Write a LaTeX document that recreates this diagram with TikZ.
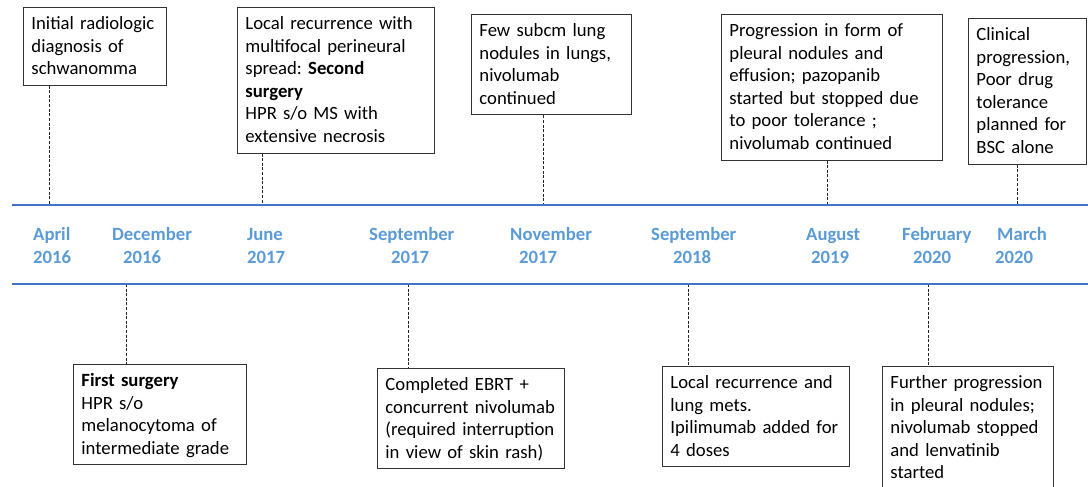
\documentclass[tikz,border=0pt]{standalone}
\usepackage{fontspec}
\setmainfont{Carlito}
\definecolor{tlblue}{HTML}{4472C4}
\definecolor{dateblue}{HTML}{5B9BD5}
\newcommand{\bxstrut}{\rule[-5.6pt]{0pt}{22.6pt}}
\newcommand{\twoline}[3]{\bxstrut #1\\\bxstrut\hspace*{#2}#3}
\begin{document}
\begin{tikzpicture}[x=1pt,y=-1pt,
  evbox/.style={draw=black!80, line width=0.9pt, fill=white, anchor=north west, align=left,
    inner xsep=8pt, inner ysep=5pt, font=\fontsize{18.7}{22.6}\selectfont\frenchspacing,
    execute at begin node=\bxstrut, execute at end node=\bxstrut},
  datelbl/.style={anchor=north west, align=left, inner sep=0pt, text=dateblue,
    font=\fontsize{18.7}{22.3}\selectfont\bfseries},
  axisline/.style={draw=tlblue, line width=2.2pt},
  conn/.style={draw=black!85, line width=0.8pt, dash pattern=on 3pt off 1.6pt}]
\useasboundingbox (0,0) rectangle (1088,487);

% event boxes above the timeline
\node[evbox, text width=127pt] (b1) at (23,7) {Initial radiologic\\diagnosis of\\schwanomma};
\node[evbox, text width=181pt] (b2) at (237,7) {Local recurrence with\\multifocal perineural\\spread: \textbf{Second}\\\textbf{surgery}\\HPR s/o MS with\\extensive necrosis};
\node[evbox, text width=144pt] (b3) at (471,14) {Few subcm lung\\nodules in lungs,\\nivolumab\\continued};
\node[evbox, text width=205pt] (b4) at (721,14) {Progression in form of\\pleural nodules and\\effusion; pazopanib\\started but stopped due\\to poor tolerance ;\\nivolumab continued};
\node[evbox, text width=102pt] (b5) at (968,18) {Clinical\\progression,\\Poor drug\\tolerance\\planned for\\BSC alone};

% event boxes below the timeline
\node[evbox, text width=157pt] (b6) at (73,364) {\textbf{First surgery}\\HPR s/o\\melanocytoma of\\intermediate grade};
\node[evbox, text width=171pt] (b7) at (377,368) {Completed EBRT +\\concurrent nivolumab\\(required interruption\\in view of skin rash)};
\node[evbox, text width=171pt] (b8) at (662,366) {Local recurrence and\\lung mets.\\Ipilimumab added for\\4 doses};
\node[evbox, text width=155pt] (b9) at (882,366) {Further progression\\in pleural nodules;\\nivolumab stopped\\and lenvatinib\\started};

% timeline anchor points
\coordinate (t1) at (49,205);
\coordinate (t2) at (262,205);
\coordinate (t3) at (543,205);
\coordinate (t4) at (827,205);
\coordinate (t5) at (1017,205);
\coordinate (u1) at (126,284);
\coordinate (u2) at (408,284);
\coordinate (u3) at (688,284);
\coordinate (u4) at (928,284);

% connectors
\draw[conn] (b1.south -| t1) -- (t1);
\draw[conn] (b2.south -| t2) -- (t2);
\draw[conn] (b3.south -| t3) -- (t3);
\draw[conn] (b4.south -| t4) -- (t4);
\draw[conn] (b5.south -| t5) -- (t5);
\draw[conn] (u1) -- (u1 |- b6.north);
\draw[conn] (u2) -- (u2 |- b7.north);
\draw[conn] (u3) -- (u3 |- b8.north);
\draw[conn] (u4) -- (u4 |- b9.north);

% timeline band
\coordinate (topL) at (12,205);
\coordinate (topR) at (1088,205);
\coordinate (botL) at (12,284);
\coordinate (botR) at (1088,284);
\draw[axisline] (topL) -- (topR);
\draw[axisline] (botL) -- (botR);

% dates
\node[datelbl] (d1) at (33,223) {\twoline{April}{0pt}{2016}};
\node[datelbl] (d2) at (112,223) {\twoline{December}{11pt}{2016}};
\node[datelbl] (d3) at (247,223) {\twoline{June}{0pt}{2017}};
\node[datelbl] (d4) at (369,223) {\twoline{September}{22pt}{2017}};
\node[datelbl] (d5) at (510,223) {\twoline{November}{9pt}{2017}};
\node[datelbl] (d6) at (651,223) {\twoline{September}{22pt}{2018}};
\node[datelbl] (d7) at (806,223) {\twoline{August}{5pt}{2019}};
\node[datelbl] (d8) at (902,223) {\twoline{February}{11pt}{2020}};
\node[datelbl] (d9) at (997,223) {\twoline{March}{-2pt}{2020}};
\end{tikzpicture}
\end{document}
